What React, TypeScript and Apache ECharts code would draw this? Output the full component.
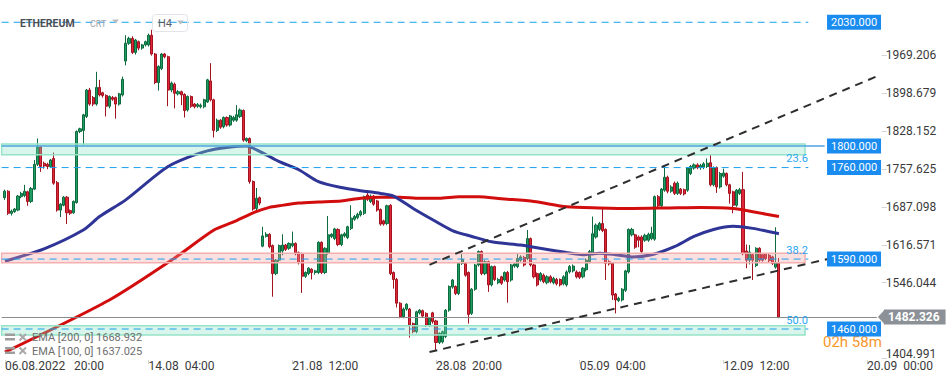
import React, { useEffect, useRef } from 'react';
import * as echarts from 'echarts';

// ---------- data (prices) ----------
// x-axis labels keyed by candle index (0 = first candle, 4h bars)
const X_LABELS: Record<number, string> = {
  0: '06.08.2022\u00a0\u00a0\u00a020:00',
  44: '14.08\u00a0\u00a004:00',
  88: '21.08\u00a0\u00a012:00',
  132: '28.08\u00a0\u00a020:00',
  176: '05.09\u00a0\u00a004:00',
  220: '12.09\u00a0\u00a012:00',
  264: '20.09\u00a0\u00a000:00',
};

const Y_TICKS = [1404.991, 1546.044, 1616.571, 1687.098, 1757.625, 1828.152, 1898.679, 1969.206];
const Y_MIN = 1402.4;
const Y_MAX = 2071.4;

// [open, close, low, high]
const OHLC: number[][] = [
  [1704, 1716, 1700, 1719], [1716, 1675, 1672, 1718], [1675, 1679, 1671, 1682], [1678, 1683, 1676, 1685],
  [1681, 1707, 1679, 1709], [1706, 1712, 1703, 1715], [1708, 1716, 1705, 1728], [1715, 1697, 1689, 1717],
  [1697, 1721, 1694, 1724], [1720, 1766, 1718, 1774], [1766, 1798, 1763, 1814], [1798, 1762, 1752, 1800],
  [1768, 1763, 1758, 1771], [1766, 1762, 1757, 1769], [1762, 1774, 1759, 1776], [1777, 1731, 1728, 1788],
  [1732, 1681, 1678, 1735], [1681, 1692, 1668, 1694], [1690, 1705, 1688, 1707], [1705, 1676, 1655, 1707],
  [1680, 1675, 1672, 1682], [1676, 1697, 1674, 1699], [1695, 1827, 1693, 1829], [1827, 1832, 1824, 1834],
  [1829, 1858, 1802, 1860], [1855, 1904, 1852, 1906], [1904, 1878, 1875, 1908], [1890, 1878, 1874, 1893],
  [1878, 1909, 1875, 1938], [1909, 1895, 1892, 1923], [1899, 1894, 1890, 1901], [1894, 1874, 1855, 1896],
  [1874, 1892, 1870, 1894], [1890, 1887, 1884, 1893], [1890, 1878, 1851, 1892], [1878, 1897, 1875, 1899],
  [1895, 1924, 1892, 1929], [1958, 1991, 1950, 2006], [1991, 2000, 1988, 2003], [2000, 1974, 1971, 2004],
  [1974, 1997, 1970, 1999], [1994, 1982, 1978, 1996], [1982, 1988, 1979, 1990], [1988, 1994, 1985, 1996],
  [1988, 2006, 1985, 2009], [2006, 1971, 1968, 2016], [1971, 1918, 1915, 1973], [1918, 1948, 1903, 1950],
  [1944, 1971, 1941, 1973], [1971, 1966, 1963, 1973], [1966, 1904, 1874, 1968], [1904, 1917, 1900, 1920],
  [1915, 1898, 1870, 1918], [1897, 1901, 1894, 1904], [1901, 1895, 1876, 1903], [1896, 1866, 1853, 1898],
  [1867, 1892, 1864, 1894], [1892, 1874, 1871, 1894], [1878, 1873, 1870, 1880], [1874, 1877, 1871, 1880],
  [1873, 1876, 1870, 1879], [1873, 1886, 1870, 1888], [1882, 1923, 1880, 1925], [1921, 1886, 1883, 1954],
  [1886, 1829, 1816, 1888], [1829, 1848, 1826, 1851], [1848, 1835, 1832, 1850], [1836, 1853, 1833, 1855],
  [1853, 1839, 1836, 1855], [1839, 1856, 1836, 1858], [1848, 1853, 1845, 1856], [1848, 1858, 1845, 1876],
  [1855, 1867, 1852, 1870], [1866, 1811, 1808, 1868], [1810, 1814, 1807, 1816], [1814, 1734, 1730, 1816],
  [1734, 1683, 1680, 1736], [1684, 1703, 1680, 1722], [1704, 1694, 1690, 1706], [1614, 1633, 1612, 1650],
  [1632, 1636, 1630, 1640], [1636, 1613, 1610, 1638], [1615, 1563, 1520, 1617], [1563, 1588, 1560, 1590],
  [1588, 1615, 1585, 1617], [1605, 1616, 1597, 1636], [1616, 1608, 1605, 1618], [1610, 1619, 1607, 1621],
  [1615, 1619, 1612, 1641], [1619, 1600, 1597, 1621], [1602, 1583, 1580, 1604], [1600, 1558, 1527, 1602],
  [1558, 1565, 1555, 1567], [1563, 1573, 1560, 1575], [1571, 1565, 1552, 1573], [1565, 1568, 1561, 1570],
  [1565, 1621, 1562, 1623], [1621, 1565, 1562, 1623], [1565, 1610, 1562, 1612], [1601, 1635, 1598, 1670],
  [1632, 1636, 1629, 1638], [1628, 1646, 1625, 1648], [1645, 1617, 1614, 1647], [1617, 1635, 1614, 1637],
  [1633, 1637, 1630, 1640], [1630, 1650, 1627, 1652], [1647, 1666, 1644, 1690], [1664, 1669, 1661, 1672],
  [1667, 1673, 1664, 1676], [1672, 1678, 1669, 1681], [1675, 1706, 1672, 1708], [1709, 1701, 1698, 1718],
  [1697, 1707, 1694, 1710], [1707, 1692, 1689, 1709], [1698, 1681, 1678, 1700], [1682, 1655, 1652, 1684],
  [1661, 1655, 1652, 1663], [1656, 1689, 1653, 1691], [1690, 1563, 1560, 1692], [1565, 1552, 1535, 1567],
  [1552, 1508, 1500, 1555], [1508, 1483, 1480, 1510], [1483, 1497, 1480, 1500], [1497, 1506, 1494, 1508],
  [1497, 1467, 1444, 1499], [1470, 1455, 1452, 1472], [1455, 1492, 1452, 1494], [1490, 1495, 1487, 1497],
  [1494, 1484, 1481, 1496], [1489, 1467, 1464, 1491], [1467, 1480, 1464, 1482], [1490, 1474, 1470, 1492],
  [1475, 1435, 1421, 1477], [1435, 1452, 1432, 1454], [1436, 1455, 1433, 1457], [1446, 1495, 1443, 1497],
  [1495, 1539, 1492, 1541], [1538, 1551, 1535, 1553], [1539, 1526, 1523, 1541], [1526, 1582, 1523, 1584],
  [1582, 1589, 1579, 1600], [1582, 1560, 1557, 1584], [1565, 1487, 1470, 1567], [1489, 1534, 1486, 1536],
  [1534, 1579, 1531, 1581], [1579, 1604, 1576, 1606], [1604, 1563, 1560, 1606], [1563, 1585, 1560, 1588],
  [1585, 1542, 1529, 1587], [1542, 1576, 1539, 1578], [1576, 1552, 1549, 1578], [1546, 1552, 1543, 1555],
  [1557, 1545, 1542, 1559], [1551, 1565, 1548, 1567], [1565, 1548, 1509, 1568], [1551, 1579, 1548, 1581],
  [1577, 1581, 1574, 1584], [1576, 1591, 1573, 1600], [1588, 1594, 1585, 1597], [1593, 1579, 1576, 1596],
  [1591, 1628, 1588, 1644], [1628, 1579, 1576, 1630], [1579, 1557, 1554, 1581], [1563, 1542, 1539, 1565],
  [1551, 1563, 1548, 1566], [1560, 1548, 1545, 1563], [1546, 1557, 1543, 1560], [1557, 1548, 1545, 1560],
  [1546, 1554, 1543, 1557], [1552, 1544, 1541, 1555], [1552, 1542, 1539, 1554], [1544, 1557, 1541, 1560],
  [1542, 1566, 1539, 1569], [1566, 1576, 1563, 1579], [1568, 1577, 1565, 1580], [1566, 1557, 1554, 1569],
  [1565, 1556, 1553, 1567], [1557, 1573, 1554, 1575], [1570, 1588, 1567, 1591], [1585, 1604, 1582, 1607],
  [1600, 1637, 1597, 1669], [1631, 1653, 1628, 1656], [1645, 1656, 1642, 1659], [1656, 1643, 1640, 1684],
  [1645, 1582, 1551, 1647], [1585, 1581, 1578, 1588], [1582, 1523, 1514, 1584], [1525, 1514, 1489, 1527],
  [1513, 1517, 1510, 1520], [1514, 1534, 1511, 1536], [1532, 1568, 1529, 1570], [1566, 1645, 1563, 1647],
  [1635, 1645, 1632, 1648], [1635, 1612, 1609, 1637], [1631, 1625, 1612, 1634], [1631, 1604, 1601, 1634],
  [1625, 1634, 1622, 1637], [1625, 1636, 1622, 1639], [1628, 1638, 1625, 1650], [1627, 1706, 1624, 1708],
  [1706, 1689, 1686, 1709], [1689, 1720, 1686, 1722], [1718, 1742, 1715, 1763], [1742, 1716, 1712, 1745],
  [1716, 1724, 1713, 1727], [1731, 1712, 1709, 1734], [1712, 1731, 1709, 1734], [1720, 1712, 1709, 1722],
  [1719, 1711, 1708, 1721], [1718, 1759, 1715, 1761], [1749, 1762, 1746, 1765], [1759, 1765, 1756, 1768],
  [1765, 1760, 1757, 1768], [1760, 1764, 1756, 1767], [1761, 1767, 1757, 1770], [1762, 1768, 1759, 1777],
  [1769, 1728, 1725, 1784], [1728, 1759, 1725, 1762], [1760, 1724, 1713, 1762], [1724, 1749, 1721, 1752],
  [1744, 1750, 1741, 1758], [1749, 1728, 1725, 1751], [1728, 1712, 1693, 1730], [1715, 1690, 1675, 1717],
  [1690, 1718, 1687, 1720], [1712, 1719, 1709, 1722], [1719, 1600, 1597, 1752], [1605, 1588, 1573, 1617],
  [1588, 1603, 1580, 1616], [1598, 1588, 1551, 1600], [1578, 1610, 1575, 1612], [1610, 1588, 1585, 1612],
  [1598, 1588, 1585, 1600], [1599, 1591, 1588, 1601], [1597, 1587, 1584, 1600], [1594, 1582, 1579, 1596],
  [1575, 1583, 1572, 1649], [1582, 1482.326, 1480, 1592],
];

// EMA curves: [candle index, price]
const EMA200: number[][] = [
  [0, 1417], [32, 1514], [52, 1592], [64, 1644], [70, 1659], [76, 1676], [81, 1686], [84, 1689],
  [90, 1694], [96, 1696], [103, 1698], [109, 1703], [115, 1705], [121, 1705], [127, 1703], [133, 1703],
  [139, 1706], [145, 1706], [152, 1702], [162, 1697], [172, 1687], [182, 1685], [192, 1684], [203, 1685],
  [213, 1686], [223, 1684], [229, 1678], [237, 1668.9],
];
const EMA100: number[][] = [
  [0, 1586], [12, 1609], [24, 1644], [29, 1669], [37, 1700], [50, 1762], [62, 1791], [74, 1800],
  [78, 1790], [84, 1771], [90, 1756], [96, 1734], [103, 1723], [109, 1717], [115, 1712], [119, 1707],
  [125, 1684], [131, 1663], [137, 1643], [143, 1632], [149, 1622], [158, 1616], [162, 1612], [172, 1602],
  [177, 1598], [182, 1601], [187, 1598], [192, 1594], [198, 1598], [205, 1613], [211, 1632], [217, 1645],
  [223, 1651], [229, 1647], [237, 1637.0],
];

// price levels
const DASHED_LEVELS = [2030, 1760, 1590, 1460];
const SOLID_LEVEL = 1800;
const BOX_LEVELS = [2030, 1800, 1760, 1590, 1460];
const FIB_LEVELS = [1760, 1590, 1460];
const FIB_TEXTS = ['23.6', '38.2', '50.0'];
const LAST_PRICE = 1482.326;
// zones [low, high]
const GREEN_ZONES = [[1784, 1804], [1449, 1466]];
const RED_ZONES = [[1583, 1601]];
// trend lines: [[k1, p1], [k2, p2]]
const TRENDS = [
  [[130, 1579.3], [268, 1932.2]],
  [[130, 1417.2], [252, 1590.1]],
];

const LEGEND_ROWS = ['EMA [200, 0] 1668.932', 'EMA [100, 0] 1637.025'];

// ---------- chart ----------
const N_CAT = 270; // one blank slot before the first candle, then future slots
const FONT = 'Roboto, "Noto Sans", sans-serif';
const ix = (k: number) => k + 1;
const cats = Array.from({ length: N_CAT }, (_, i) => String(i));
const labelFor = (i: number) => X_LABELS[i - 1];

const LEVEL_END = ix(246);
const ZONE_END = ix(245);
const BOX_X = ix(260);

function helper(z: number, extra: any) {
  return { type: 'line', data: [], clip: false, silent: true, z, symbol: 'none', ...extra };
}

function buildOption() {
  const markAreas: any[] = [];
  GREEN_ZONES.forEach(([lo, hi]) => {
    markAreas.push([
      { coord: [0, hi], itemStyle: { color: 'rgba(130,224,190,0.32)', borderColor: '#96e3c8', borderWidth: 1.5 } },
      { coord: [ZONE_END, lo] },
    ]);
  });
  RED_ZONES.forEach(([lo, hi]) => {
    markAreas.push([
      { coord: [0, hi], itemStyle: { color: 'rgba(246,160,160,0.33)', borderColor: '#f3b0b0', borderWidth: 1.5 } },
      { coord: [ZONE_END, lo] },
    ]);
  });

  const markPoints: any[] = BOX_LEVELS.map((lv) => ({
    coord: [BOX_X, lv],
    symbol: 'rect',
    symbolSize: [54, 15],
    itemStyle: { color: '#1a8cf0' },
    label: { show: true, position: 'inside', formatter: lv.toFixed(3), color: '#fff', fontSize: 11, fontFamily: FONT },
  }));
  markPoints.push({
    coord: [ix(267), LAST_PRICE],
    symbol: 'path://M0,7L7,0L7,14Z',
    symbolSize: [7, 15],
    symbolOffset: [4.5, 0],
    itemStyle: { color: '#8b9196' },
    label: { show: false },
  });
  const fibPoints: any[] = FIB_LEVELS.map((lv, i) => ({
    coord: [LEVEL_END, lv],
    symbol: 'rect',
    symbolSize: [1, 1],
    itemStyle: { color: 'rgba(0,0,0,0)' },
    label: {
      show: true, position: 'left', distance: 0, offset: [0, -9], formatter: FIB_TEXTS[i],
      color: '#2aa7f2', fontSize: 11, fontFamily: FONT,
    },
  }));

  // horizontal level lines as plain line series
  const levelSeries: any[] = DASHED_LEVELS.map((lv) => ({
    type: 'line',
    data: [[0, lv], [LEVEL_END, lv]],
    symbol: 'none', silent: true, clip: false, z: 5,
    lineStyle: { color: '#1a9ff0', width: 1, type: [7, 5], opacity: 1 },
  }));
  levelSeries.push({
    type: 'line',
    data: [[0, SOLID_LEVEL], [ix(251), SOLID_LEVEL]],
    symbol: 'none', silent: true, clip: false, z: 5,
    lineStyle: { color: '#4ea3e0', width: 1.5, type: 'solid', opacity: 1 },
  });
  const trendSeries: any[] = TRENDS.map(([a, b]) => ({
    type: 'line',
    data: [[ix(a[0]), a[1]], [ix(b[0]), b[1]]],
    symbol: 'none', silent: true, clip: false, z: 5,
    lineStyle: { color: '#2e2e2e', width: 2, type: [8, 6], opacity: 1 },
  }));

  const graphic: any[] = [
    { type: 'text', x: 20, y: 23, z: 10, style: { text: 'ETHEREUM', fill: '#4a4f55', font: `bold 10.5px ${FONT}`, verticalAlign: 'middle' } },
    { type: 'text', x: 90, y: 24, z: 10, style: { text: 'CRT', fill: '#a0a5aa', font: `9px ${FONT}`, verticalAlign: 'middle' } },
    { type: 'polygon', z: 10, shape: { points: [[112, 19.5], [119, 19.5], [115.5, 23.5]] }, style: { fill: '#b9bdc1' } },
    { type: 'rect', z: 10, shape: { x: 152.5, y: 14.5, width: 35, height: 17, r: 3 }, style: { fill: 'none', stroke: '#e1e4e8', lineWidth: 1 } },
    { type: 'text', x: 158, y: 23, z: 10, style: { text: 'H4', fill: '#5a5f64', font: `11px ${FONT}`, verticalAlign: 'middle' } },
    { type: 'polygon', z: 10, shape: { points: [[177, 20.5], [184, 20.5], [180.5, 24.5]] }, style: { fill: '#b9bdc1' } },
    { type: 'text', x: 823, y: 342, z: 1, style: { text: '02h 58m', fill: '#f7962a', font: `15px ${FONT}`, verticalAlign: 'middle' } },
  ];
  LEGEND_ROWS.forEach((t, i) => {
    const y = 337.5 + i * 13.5;
    graphic.push(
      { type: 'rect', z: 10, shape: { x: 5, y: y - 4, width: 10, height: 2.5 }, style: { fill: '#9d9d9d' } },
      { type: 'rect', z: 10, shape: { x: 5, y: y + 0.5, width: 10, height: 2.5 }, style: { fill: '#9d9d9d' } },
      { type: 'line', z: 10, shape: { x1: 19.5, y1: y - 3.5, x2: 26, y2: y + 3 }, style: { stroke: '#a9a9a9', lineWidth: 2 } },
      { type: 'line', z: 10, shape: { x1: 26, y1: y - 3.5, x2: 19.5, y2: y + 3 }, style: { stroke: '#a9a9a9', lineWidth: 2 } },
      { type: 'text', x: 32, y, z: 10, style: { text: t, fill: '#6e6e6e', font: `11px ${FONT}`, verticalAlign: 'middle' } },
    );
  });

  return {
    animation: false,
    backgroundColor: '#ffffff',
    textStyle: { fontFamily: FONT },
    grid: { left: 0, top: 0, width: 881.8, height: 360 },
    xAxis: {
      type: 'category',
      data: cats,
      boundaryGap: true,
      axisLine: { show: false },
      axisTick: {
        show: true, alignWithLabel: true, length: 4,
        interval: (i: number) => labelFor(i) !== undefined,
        lineStyle: { color: '#d4d4d4' },
      },
      axisLabel: {
        interval: (i: number) => labelFor(i) !== undefined,
        formatter: (v: string) => labelFor(Number(v)) ?? '',
        align: 'left', color: '#3a3a3a', fontSize: 12, margin: 0, fontFamily: FONT,
      },
      splitLine: { show: false },
    },
    yAxis: {
      type: 'value',
      position: 'right',
      min: Y_MIN,
      max: Y_MAX,
      axisLine: { show: false },
      axisTick: { show: true, length: 5, customValues: Y_TICKS, lineStyle: { color: '#d4d4d4' } },
      axisLabel: {
        customValues: Y_TICKS,
        formatter: (v: number) => (v < 1410 ? `{lo|${v.toFixed(3)}}\n{sp| }` : v.toFixed(3)),
        rich: {
          lo: { fontSize: 12, color: '#3a3a3a', fontFamily: FONT, lineHeight: 14 },
          sp: { fontSize: 6, lineHeight: 10 },
        },
        color: '#3a3a3a', fontSize: 12, margin: 4, fontFamily: FONT,
      },
      splitLine: { show: false },
    },
    graphic,
    series: [
      {
        type: 'candlestick',
        data: ['-', ...OHLC],
        barWidth: 2.6,
        z: 2,
        silent: true,
        itemStyle: {
          color: '#1f9c63', color0: '#e1283b',
          borderColor: '#0e6b3e', borderColor0: '#a3131f', borderWidth: 1,
        },
      },
      {
        type: 'line', data: EMA200.map(([k, v]) => [ix(k), v]), smooth: 0.25, symbol: 'none', z: 3, silent: true,
        lineStyle: { color: '#d20d0d', width: 3 },
      },
      {
        type: 'line', data: EMA100.map(([k, v]) => [ix(k), v]), smooth: 0.25, symbol: 'none', z: 3, silent: true,
        lineStyle: { color: '#2f3596', width: 3 },
      },
      // zones
      helper(4, { markArea: { silent: true, z: 4, data: markAreas } }),
      ...levelSeries,
      ...trendSeries,
      // fibonacci level texts
      helper(6, { markPoint: { silent: true, z: 6, data: fibPoints } }),
      // last price line with label
      helper(5, {
        markLine: {
          silent: true, z: 5, symbol: ['none', 'none'],
          lineStyle: { color: '#8c8c8c', width: 1, type: 'solid', opacity: 1 },
          label: {
            show: true, position: 'end', formatter: LAST_PRICE.toFixed(3), backgroundColor: '#8b9196',
            color: '#fff', fontWeight: 'bold', fontSize: 12, padding: [2, 6, 1, 4], distance: 7, fontFamily: FONT,
          },
          data: [[{ coord: [0, LAST_PRICE] }, { coord: [ix(267), LAST_PRICE] }]],
        },
      }),
      // price boxes
      helper(7, { markPoint: { silent: true, z: 7, data: markPoints } }),
    ],
  };
}

export default function App() {
  const ref = useRef<HTMLDivElement>(null);
  useEffect(() => {
    if (!ref.current) return;
    const chart = echarts.init(ref.current, null, { renderer: 'svg' });
    chart.setOption(buildOption() as any);
    return () => chart.dispose();
  }, []);
  return (
    <div
      ref={ref}
      style={{ position: 'fixed', left: 0, top: 0, width: 949, height: 384, background: '#fff' }}
    />
  );
}
